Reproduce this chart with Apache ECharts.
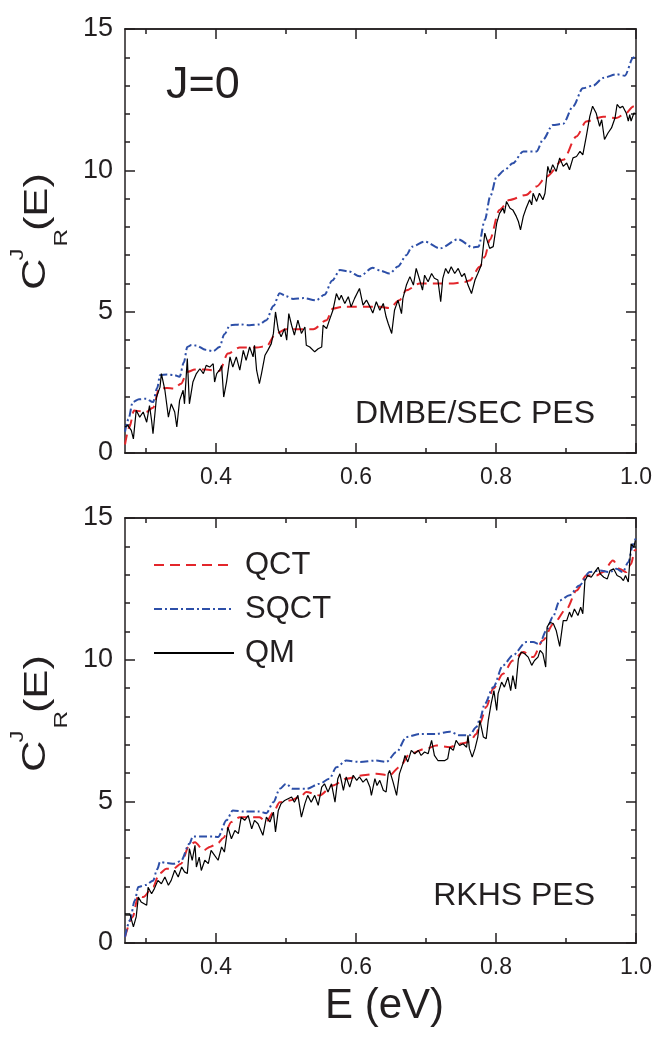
<!DOCTYPE html>
<html>
<head>
<meta charset="utf-8">
<script src="https://cdn.jsdelivr.net/npm/echarts@6/dist/echarts.min.js"></script>
<style>
  html, body { margin: 0; padding: 0; background: #fff; }
  #main { width: 657px; height: 1047px; }
</style>
</head>
<body>
<div id="main"></div>
<script>
// tick positions
var xMajorTicks = [0.4, 0.6, 0.8, 1.0];
var xMinorTicks = [0.3, 0.5, 0.7, 0.9];

// upper panel, DMBE/SEC PES  ([E, C])
var topQCT = [
  [0.270, 0.30], [0.276, 0.90], [0.283, 1.50], [0.292, 1.48], [0.300, 1.45], [0.310, 1.60],
  [0.319, 2.28], [0.330, 2.30], [0.340, 2.28], [0.350, 2.45], [0.359, 2.87], [0.370, 2.95],
  [0.385, 2.95], [0.405, 2.90], [0.417, 3.52], [0.434, 3.73], [0.458, 3.73], [0.472, 3.78],
  [0.486, 4.23], [0.500, 4.38], [0.520, 4.38], [0.539, 4.38], [0.558, 4.70], [0.567, 5.11],
  [0.580, 5.17], [0.596, 5.17], [0.620, 5.17], [0.634, 5.17], [0.648, 5.13], [0.662, 5.40],
  [0.672, 5.76], [0.691, 6.00], [0.715, 6.00], [0.739, 6.00], [0.755, 6.05], [0.762, 6.10],
  [0.777, 6.59], [0.784, 6.94], [0.791, 7.54], [0.805, 8.60], [0.819, 8.95], [0.843, 9.13],
  [0.858, 9.43], [0.872, 9.78], [0.896, 10.37], [0.915, 11.20], [0.929, 11.73], [0.953, 11.90],
  [0.972, 11.85], [0.986, 12.03], [0.996, 12.26], [1.000, 12.30]
];
var topSQCT = [
  [0.270, 0.75], [0.275, 1.20], [0.281, 1.80], [0.290, 1.90], [0.300, 1.92], [0.310, 1.80],
  [0.316, 2.30], [0.320, 2.75], [0.330, 2.78], [0.340, 2.76], [0.348, 2.70], [0.354, 3.20],
  [0.359, 3.75], [0.365, 3.82], [0.372, 3.80], [0.385, 3.65], [0.396, 3.60], [0.405, 3.75],
  [0.412, 4.20], [0.420, 4.52], [0.435, 4.55], [0.448, 4.52], [0.462, 4.55], [0.472, 4.70],
  [0.482, 5.20], [0.491, 5.65], [0.500, 5.55], [0.510, 5.45], [0.525, 5.48], [0.543, 5.40],
  [0.555, 5.60], [0.566, 6.10], [0.577, 6.47], [0.590, 6.42], [0.605, 6.25], [0.624, 6.55],
  [0.635, 6.45], [0.648, 6.35], [0.660, 6.60], [0.672, 7.00], [0.680, 7.30], [0.698, 7.48],
  [0.720, 7.24], [0.746, 7.56], [0.767, 7.27], [0.775, 7.30], [0.784, 8.24], [0.792, 9.10],
  [0.801, 9.78], [0.812, 10.00], [0.824, 10.25], [0.839, 10.67], [0.858, 10.67], [0.867, 11.08],
  [0.881, 11.60], [0.896, 11.65], [0.910, 12.26], [0.924, 12.90], [0.939, 13.00], [0.953, 13.27],
  [0.972, 13.40], [0.984, 13.35], [0.996, 13.98], [1.000, 14.10]
];
var topQM = [
  [0.270, 0.92], [0.274, 0.98], [0.279, 0.80], [0.282, 0.50], [0.286, 1.51], [0.291, 1.27],
  [0.296, 1.45], [0.301, 1.09], [0.305, 1.68], [0.308, 1.15], [0.310, 0.68], [0.315, 1.98],
  [0.320, 2.33], [0.322, 2.81], [0.327, 2.22], [0.332, 1.27], [0.336, 1.74], [0.341, 1.45],
  [0.344, 0.92], [0.348, 1.86], [0.353, 2.22], [0.355, 1.74], [0.359, 3.34], [0.362, 1.74],
  [0.367, 2.51], [0.372, 2.81], [0.377, 2.98], [0.382, 2.81], [0.386, 3.10], [0.391, 3.04],
  [0.396, 3.16], [0.398, 2.51], [0.401, 2.81], [0.405, 2.93], [0.408, 3.10], [0.411, 1.98],
  [0.415, 2.51], [0.420, 3.40], [0.424, 3.04], [0.429, 3.40], [0.434, 2.93], [0.439, 3.63],
  [0.443, 3.28], [0.448, 3.75], [0.453, 3.40], [0.455, 3.81], [0.458, 2.93], [0.462, 2.45],
  [0.465, 2.81], [0.470, 3.46], [0.474, 3.63], [0.479, 3.87], [0.482, 4.23], [0.485, 4.99],
  [0.489, 4.35], [0.493, 4.11], [0.498, 4.40], [0.501, 3.99], [0.504, 4.93], [0.508, 4.52],
  [0.512, 4.17], [0.517, 4.70], [0.522, 4.23], [0.527, 4.46], [0.529, 3.81], [0.534, 3.75],
  [0.541, 3.58], [0.546, 3.69], [0.551, 3.75], [0.553, 4.52], [0.558, 4.40], [0.562, 4.70],
  [0.567, 5.05], [0.572, 5.64], [0.576, 5.41], [0.579, 5.58], [0.584, 5.29], [0.589, 5.53],
  [0.593, 5.17], [0.598, 5.47], [0.605, 5.82], [0.610, 5.23], [0.615, 5.41], [0.620, 5.17],
  [0.624, 4.95], [0.629, 5.35], [0.634, 5.05], [0.639, 5.29], [0.643, 4.82], [0.646, 4.58],
  [0.651, 4.23], [0.655, 5.05], [0.660, 5.41], [0.665, 4.93], [0.667, 5.47], [0.672, 5.94],
  [0.677, 6.24], [0.682, 5.94], [0.686, 6.53], [0.691, 6.12], [0.695, 5.76], [0.698, 6.29],
  [0.703, 6.06], [0.708, 6.35], [0.712, 6.18], [0.717, 6.12], [0.721, 5.35], [0.724, 6.18],
  [0.728, 6.53], [0.732, 6.35], [0.736, 6.59], [0.741, 6.35], [0.746, 6.53], [0.751, 6.24],
  [0.755, 6.35], [0.760, 5.94], [0.765, 5.64], [0.770, 6.12], [0.774, 6.35], [0.779, 6.65],
  [0.784, 7.78], [0.786, 7.83], [0.791, 7.24], [0.796, 7.30], [0.801, 8.13], [0.805, 8.48],
  [0.810, 8.66], [0.812, 8.48], [0.815, 8.90], [0.820, 8.66], [0.824, 8.60], [0.829, 8.37],
  [0.832, 8.19], [0.835, 7.89], [0.839, 8.37], [0.843, 8.66], [0.848, 8.96], [0.851, 8.78],
  [0.853, 9.19], [0.858, 8.90], [0.862, 9.19], [0.867, 8.96], [0.870, 9.19], [0.874, 10.14],
  [0.877, 9.90], [0.881, 10.20], [0.886, 9.96], [0.891, 10.44], [0.896, 10.14], [0.901, 10.26],
  [0.905, 10.02], [0.910, 10.44], [0.915, 10.49], [0.920, 10.67], [0.924, 10.55], [0.929, 11.20],
  [0.934, 11.91], [0.938, 12.27], [0.943, 12.03], [0.948, 11.56], [0.951, 11.79], [0.955, 11.09],
  [0.960, 11.32], [0.965, 11.50], [0.970, 11.85], [0.973, 12.33], [0.977, 12.21], [0.981, 12.27],
  [0.986, 12.03], [0.989, 11.74], [0.991, 11.97], [0.993, 11.74], [0.997, 12.03], [1.000, 12.00]
];

// lower panel, RKHS PES
var botQCT = [
  [0.270, 0.21], [0.281, 0.92], [0.289, 1.68], [0.296, 1.62], [0.310, 1.98], [0.319, 2.45],
  [0.329, 2.62], [0.339, 2.62], [0.350, 2.80], [0.362, 3.45], [0.370, 3.56], [0.382, 3.27],
  [0.392, 3.40], [0.403, 3.53], [0.410, 3.70], [0.422, 4.27], [0.434, 4.44], [0.448, 4.44],
  [0.462, 4.44], [0.472, 4.27], [0.482, 4.62], [0.491, 4.97], [0.505, 5.03], [0.520, 5.15],
  [0.529, 5.33], [0.548, 5.21], [0.567, 5.56], [0.586, 5.80], [0.610, 5.92], [0.629, 5.97],
  [0.648, 5.92], [0.662, 6.21], [0.677, 6.68], [0.700, 6.86], [0.715, 6.97], [0.734, 6.91],
  [0.748, 7.03], [0.762, 7.09], [0.772, 7.38], [0.777, 7.74], [0.786, 8.33], [0.796, 8.97],
  [0.810, 9.50], [0.824, 9.97], [0.839, 10.27], [0.853, 10.09], [0.867, 10.68], [0.882, 11.27],
  [0.901, 11.80], [0.915, 12.44], [0.929, 12.97], [0.943, 12.97], [0.953, 13.09], [0.967, 13.50],
  [0.977, 13.20], [0.986, 13.09], [0.993, 13.38], [0.998, 13.85], [1.000, 13.90]
];
var botSQCT = [
  [0.270, 0.21], [0.277, 0.80], [0.284, 1.50], [0.289, 1.98], [0.300, 2.05], [0.310, 2.20],
  [0.316, 2.60], [0.320, 2.86], [0.330, 2.82], [0.340, 2.80], [0.350, 2.90], [0.362, 3.50],
  [0.367, 3.76], [0.380, 3.76], [0.396, 3.76], [0.403, 3.74], [0.415, 4.33], [0.424, 4.68],
  [0.440, 4.64], [0.462, 4.64], [0.472, 4.58], [0.482, 4.97], [0.491, 5.44], [0.500, 5.62],
  [0.510, 5.44], [0.529, 5.44], [0.548, 5.62], [0.562, 5.80], [0.572, 6.20], [0.586, 6.44],
  [0.605, 6.39], [0.629, 6.44], [0.643, 6.39], [0.658, 6.74], [0.672, 7.27], [0.691, 7.38],
  [0.715, 7.38], [0.734, 7.46], [0.748, 7.33], [0.762, 7.33], [0.772, 7.62], [0.777, 7.90],
  [0.784, 8.44], [0.796, 9.03], [0.810, 9.80], [0.824, 10.15], [0.843, 10.62], [0.853, 10.62],
  [0.862, 10.55], [0.872, 11.03], [0.881, 11.50], [0.891, 12.09], [0.905, 12.27], [0.919, 12.62],
  [0.934, 13.09], [0.948, 13.15], [0.962, 13.09], [0.972, 13.21], [0.981, 13.09], [0.989, 13.44],
  [0.996, 14.09], [1.000, 14.32]
];
var botQM = [
  [0.270, 1.03], [0.277, 1.03], [0.282, 0.57], [0.286, 0.92], [0.289, 1.62], [0.293, 1.45],
  [0.301, 1.33], [0.303, 1.97], [0.308, 1.74], [0.312, 1.92], [0.317, 2.21], [0.322, 2.09],
  [0.327, 2.33], [0.332, 2.04], [0.336, 2.21], [0.341, 2.57], [0.346, 2.33], [0.351, 2.68],
  [0.355, 2.51], [0.359, 2.45], [0.362, 3.33], [0.366, 2.92], [0.370, 3.45], [0.372, 2.68],
  [0.376, 3.03], [0.379, 2.56], [0.384, 2.92], [0.389, 2.80], [0.393, 3.27], [0.398, 3.09],
  [0.403, 2.92], [0.408, 3.39], [0.412, 3.21], [0.417, 4.09], [0.422, 3.68], [0.427, 3.97],
  [0.432, 3.86], [0.436, 4.44], [0.441, 4.33], [0.446, 4.50], [0.451, 4.03], [0.455, 4.33],
  [0.460, 4.21], [0.467, 3.80], [0.472, 4.44], [0.477, 4.27], [0.482, 4.62], [0.485, 3.92],
  [0.489, 4.68], [0.493, 4.92], [0.498, 5.03], [0.503, 5.09], [0.508, 5.15], [0.512, 4.97],
  [0.517, 5.21], [0.522, 4.44], [0.527, 4.92], [0.531, 5.21], [0.536, 4.97], [0.541, 5.21],
  [0.546, 4.86], [0.551, 5.50], [0.555, 5.62], [0.560, 5.33], [0.565, 5.62], [0.570, 4.97],
  [0.574, 5.80], [0.577, 5.97], [0.582, 5.39], [0.586, 5.86], [0.591, 5.50], [0.596, 5.92],
  [0.601, 5.74], [0.605, 5.86], [0.610, 5.68], [0.615, 5.80], [0.620, 5.50], [0.622, 5.21],
  [0.627, 5.80], [0.630, 5.56], [0.634, 5.74], [0.639, 5.39], [0.643, 5.33], [0.646, 5.97],
  [0.648, 6.09], [0.653, 5.68], [0.658, 5.21], [0.662, 5.97], [0.667, 6.33], [0.670, 6.62],
  [0.674, 6.39], [0.679, 6.80], [0.684, 6.68], [0.689, 6.80], [0.693, 6.62], [0.698, 6.74],
  [0.703, 6.68], [0.708, 7.15], [0.712, 6.62], [0.717, 6.44], [0.722, 6.44], [0.727, 6.44],
  [0.731, 6.50], [0.734, 6.91], [0.739, 6.80], [0.743, 7.15], [0.748, 6.97], [0.753, 7.03],
  [0.758, 6.91], [0.760, 7.33], [0.762, 6.86], [0.766, 6.56], [0.770, 6.86], [0.774, 7.27],
  [0.777, 7.86], [0.782, 7.27], [0.786, 7.21], [0.789, 7.86], [0.793, 8.44], [0.797, 8.91],
  [0.801, 8.21], [0.803, 8.80], [0.808, 9.21], [0.812, 9.03], [0.817, 9.38], [0.821, 8.91],
  [0.824, 9.44], [0.828, 8.97], [0.832, 10.03], [0.836, 10.27], [0.841, 10.21], [0.846, 10.09],
  [0.851, 9.80], [0.855, 9.97], [0.860, 10.09], [0.863, 10.33], [0.867, 10.21], [0.871, 9.74],
  [0.873, 11.15], [0.877, 11.32], [0.882, 11.27], [0.886, 11.03], [0.891, 10.47], [0.896, 11.38],
  [0.901, 11.38], [0.905, 11.68], [0.908, 11.50], [0.912, 11.79], [0.917, 11.56], [0.921, 11.85],
  [0.924, 11.62], [0.927, 12.79], [0.931, 12.97], [0.936, 12.91], [0.941, 13.09], [0.946, 13.26],
  [0.949, 13.03], [0.954, 12.91], [0.959, 12.85], [0.963, 13.15], [0.968, 13.21], [0.973, 12.97],
  [0.978, 12.91], [0.982, 12.79], [0.985, 12.97], [0.989, 12.74], [0.993, 14.09], [0.997, 13.97],
  [0.999, 14.21]
];

var ink = '#231f20';
var red = '#e3262b';
var blue = '#2d4fa8';
var font = 'Liberation Sans, Arial, sans-serif';

var chart = echarts.init(document.getElementById('main'), null, { renderer: 'canvas' });

function xAxes(g) {
  var list = [];
  [['bottom', xMajorTicks, 10, true], ['bottom', xMinorTicks, 5, false],
   ['top', xMajorTicks, 10, false], ['top', xMinorTicks, 5, false]].forEach(function (d) {
    list.push({
      type: 'value', gridIndex: g, position: d[0], min: 0.27, max: 1.0,
      axisLine: { show: true, onZero: false, lineStyle: { color: ink, width: 1.5 } },
      axisTick: { show: true, inside: true, length: d[2], customValues: d[1], lineStyle: { color: ink, width: 1.5 } },
      axisLabel: {
        show: d[3], customValues: d[1], margin: 13, color: ink, fontSize: 23, fontFamily: font,
        formatter: function (v) { return v.toFixed(1); }
      },
      splitLine: { show: false }
    });
  });
  return list;
}

function yAxes(g) {
  return ['left', 'right'].map(function (pos) {
    return {
      type: 'value', gridIndex: g, position: pos, min: 0, max: 15, interval: 5,
      axisLine: { show: true, onZero: false, lineStyle: { color: ink, width: 1.5 } },
      axisTick: { show: true, inside: true, length: 10, lineStyle: { color: ink, width: 1.5 } },
      minorTick: { show: true, splitNumber: 5, length: 5, lineStyle: { color: ink, width: 1.5 } },
      axisLabel: { show: pos === 'left', margin: 12, color: ink, fontSize: 27, fontFamily: font },
      splitLine: { show: false }
    };
  });
}

function panelSeries(xi, yi, qct, sqct, qm) {
  return [{
    name: 'QCT', type: 'line', xAxisIndex: xi, yAxisIndex: yi, data: qct,
    symbol: 'none', smooth: 0.3, smoothMonotone: 'x',
    lineStyle: { color: red, width: 2, type: [10, 6] }, itemStyle: { color: red }
  }, {
    name: 'SQCT', type: 'line', xAxisIndex: xi, yAxisIndex: yi, data: sqct,
    symbol: 'none', smooth: 0.3, smoothMonotone: 'x',
    lineStyle: { color: blue, width: 2, type: [8, 3, 2, 3] }, itemStyle: { color: blue }
  }, {
    name: 'QM', type: 'line', xAxisIndex: xi, yAxisIndex: yi, data: qm,
    symbol: 'none',
    lineStyle: { color: '#000', width: 1.2 }, itemStyle: { color: '#000' }
  }];
}

// rotated y title C^J_R(E), y0 = screen y where the C starts
function yTitle(y0) {
  var s = { fill: ink, fontFamily: font, verticalAlign: 'middle', align: 'left' };
  return {
    type: 'group', x: 36, y: y0, rotation: Math.PI / 2, scaleX: 1.28, silent: true,
    children: [
      { type: 'text', x: 0, y: 0, style: Object.assign({ text: 'C', fontSize: 34 }, s) },
      { type: 'text', x: 23, y: -18, style: Object.assign({ text: 'J', fontSize: 19 }, s) },
      { type: 'text', x: 34, y: 26, style: Object.assign({ text: 'R', fontSize: 19 }, s) },
      { type: 'text', x: 46, y: 2, style: Object.assign({ text: '(E)', fontSize: 34 }, s) }
    ]
  };
}

var option = {
  animation: false,
  backgroundColor: '#fff',
  grid: [
    { left: 125, width: 511, top: 29, height: 424, outerBoundsMode: 'none' },
    { left: 125, width: 511, top: 518, height: 425, outerBoundsMode: 'none' }
  ],
  xAxis: xAxes(0).concat(xAxes(1)),
  yAxis: yAxes(0).concat(yAxes(1)),
  legend: {
    data: ['QCT', 'SQCT', 'QM'],
    orient: 'vertical', left: 153, top: 548, padding: 0,
    itemWidth: 80, itemHeight: 14, itemGap: 10,
    itemStyle: { opacity: 0 },
    selectedMode: false,
    textStyle: { color: ink, fontSize: 31, fontFamily: font, lineHeight: 34, padding: [0, 0, 0, 6] }
  },
  series: panelSeries(0, 0, topQCT, topSQCT, topQM).concat(panelSeries(4, 2, botQCT, botSQCT, botQM)),
  graphic: [
    yTitle(290),
    yTitle(772),
    { type: 'text', left: 166, top: 63, style: { text: 'J=0', fontSize: 45, fill: ink, fontFamily: font } },
    { type: 'text', right: 62, top: 398, style: { text: 'DMBE/SEC PES', fontSize: 32, fill: ink, fontFamily: font } },
    { type: 'text', right: 62, top: 880, style: { text: 'RKHS PES', fontSize: 32, fill: ink, fontFamily: font } },
    { type: 'text', left: 325, top: 985, style: { text: 'E (eV)', fontSize: 42, fill: ink, fontFamily: font } }
  ]
};

chart.setOption(option);
</script>
</body>
</html>
